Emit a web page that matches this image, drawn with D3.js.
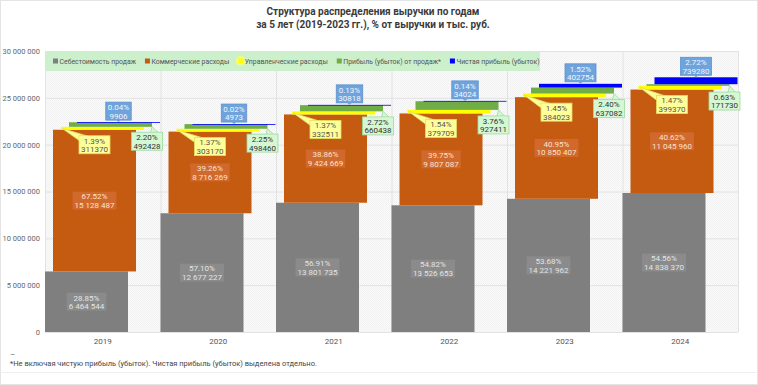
<!DOCTYPE html>
<html>
<head>
<meta charset="utf-8">
<script src="https://d3js.org/d3.v7.min.js"></script>
<style>
  body { margin: 0; background: #fff; }
  svg text { font-family: Roboto, "Noto Sans", sans-serif; }
</style>
</head>
<body>
<script>
// --- data ---
var years = ["2019", "2020", "2021", "2022", "2023", "2024"];
var cost       = [6464544, 12677227, 13801735, 13526653, 14221962, 14838370];
var commercial = [15128487, 8716269, 9424669, 9807087, 10850407, 11045960];
var admin      = [311370, 303170, 332511, 379709, 384023, 399370];
var salesProfit= [492428, 498460, 660438, 927411, 637082, 171730];
var netProfit  = [9906, 4973, 30818, 34024, 402754, 739280];

var costPct   = [28.85, 57.10, 56.91, 54.82, 53.68, 54.56];
var commPct   = [67.52, 39.26, 38.86, 39.75, 40.95, 40.62];
var adminPct  = [1.39, 1.37, 1.37, 1.54, 1.45, 1.47];
var salesPct  = [2.20, 2.25, 2.72, 3.76, 2.40, 0.63];
var netPct    = [0.04, 0.02, 0.13, 0.14, 1.52, 2.72];

var seriesNames = ["Себестоимость продаж", "Коммерческие расходы", "Управленческие расходы",
                   "Прибыль (убыток) от продаж*", "Чистая прибыль (убыток)"];
var yTicks = [0, 5000000, 10000000, 15000000, 20000000, 25000000, 30000000];

var keys = ["cost", "comm", "admin", "sales", "net"];
var colors = ["#7f7f7f", "#c55a11", "#ffff00", "#70ad47", "#0000ff"];

var rows = years.map(function(yr, i) {
  return { year: yr, cost: cost[i], comm: commercial[i], admin: admin[i], sales: salesProfit[i], net: netProfit[i],
           pct: [costPct[i], commPct[i], adminPct[i], salesPct[i], netPct[i]] };
});

var W = 758, H = 385;
var pL = 45, pR = 738, pT = 51, pB = 332;

var svg = d3.select("body").append("svg").attr("width", W).attr("height", H);

// outer frame
svg.append("rect").attr("x", 0.5).attr("y", 0.5).attr("width", W - 1).attr("height", H - 1)
  .attr("fill", "#fff").attr("stroke", "#e4e4e4");

// title
var title = svg.append("text").attr("text-anchor", "middle")
  .attr("font-size", 10).attr("font-weight", "bold").attr("fill", "#3a3a3a");
title.append("tspan").attr("x", 373).attr("y", 15).text("Структура распределения выручки по годам");
title.append("tspan").attr("x", 373).attr("y", 28).text("за 5 лет (2019-2023 гг.), % от выручки и тыс. руб.");

var x = d3.scaleBand().domain(years).range([pL, pR]).padding(0);
var off = d3.scalePoint().domain(keys).range([0, 32]);
var barW = 83;
var y = d3.scaleLinear().domain([0, 30000000]).range([pB, pT]);

// plot background with faint texture
var defs = svg.append("defs");
var pat = defs.append("pattern").attr("id", "tex").attr("width", 2).attr("height", 2)
  .attr("patternUnits", "userSpaceOnUse");
pat.append("rect").attr("width", 2).attr("height", 2).attr("fill", "#fbfbfb");
pat.append("rect").attr("width", 1).attr("height", 1).attr("fill", "#f1f1f1");
pat.append("rect").attr("x", 1).attr("y", 1).attr("width", 1).attr("height", 1).attr("fill", "#f1f1f1");
svg.append("rect").attr("x", pL).attr("y", pT).attr("width", pR - pL).attr("height", pB - pT)
  .attr("fill", "url(#tex)");

// grid
svg.append("g").selectAll("line").data(yTicks).enter().append("line")
  .attr("x1", pL).attr("x2", pR).attr("y1", function(d) { return y(d) + 0.5; })
  .attr("y2", function(d) { return y(d) + 0.5; }).attr("stroke", "#e2e2e2");
var vlines = years.map(function(d) { return x(d); }).concat([pR]);
svg.append("g").selectAll("line").data(vlines).enter().append("line")
  .attr("x1", function(d) { return d + 0.5; }).attr("x2", function(d) { return d + 0.5; })
  .attr("y1", pT).attr("y2", pB).attr("stroke", "#e2e2e2");

// y axis
var fmtSp = function(v) { return d3.format(",")(v).replace(/,/g, " "); };
var yAxis = d3.axisLeft(y).tickValues(yTicks).tickSize(0).tickPadding(5).tickFormat(fmtSp);
var ya = svg.append("g").attr("transform", "translate(" + pL + ",0)").call(yAxis);
ya.select(".domain").remove();
ya.selectAll("text").attr("font-size", 7.5).attr("fill", "#666");

// x axis
var xAxis = d3.axisBottom(x).tickSize(0).tickPadding(6);
var xa = svg.append("g").attr("transform", "translate(0," + pB + ")").call(xAxis);
xa.select(".domain").remove();
xa.selectAll("text").attr("font-size", 8).attr("fill", "#555");

// legend
var lg = svg.append("g");
lg.append("rect").attr("x", pL).attr("y", pT).attr("width", 495).attr("height", 20).attr("fill", "#ccefcc");
var lx = 53;
seriesNames.forEach(function(name, i) {
  if (i === 2) {
    lg.append("circle").attr("cx", lx + 2.5).attr("cy", pT + 10).attr("r", 5).attr("fill", "#ffff66").attr("opacity", 0.7);
  }
  lg.append("rect").attr("x", lx).attr("y", pT + 7.5).attr("width", 5).attr("height", 5).attr("fill", colors[i]);
  var t = lg.append("text").attr("x", lx + 6.5).attr("y", pT + 12.6).attr("font-size", 6.9).attr("fill", "#555").text(name);
  lx += 6.5 + t.node().getComputedTextLength() + 9;
});

// bars
var stack = d3.stack().keys(keys)(rows);
var bars = svg.append("g");
stack.forEach(function(layer, si) {
  bars.selectAll(null).data(layer).enter().append("rect")
    .attr("x", function(d) { return x(d.data.year) + off(keys[si]); })
    .attr("width", barW)
    .attr("y", function(d) { return y(d[1]); })
    .attr("height", function(d) { return Math.max(0.8, y(d[0]) - y(d[1])); })
    .attr("fill", colors[si]);
});

// label helper: returns box dimensions
var boxH = 18;
function labelBox(cx, ty, lines, o) {
  var g = svg.append("g");
  var texts = lines.map(function(s, k) {
    return g.append("text").attr("x", cx).attr("y", ty + 7.8 + k * 8.6).attr("text-anchor", "middle")
      .attr("font-size", 8).attr("fill", o.text).text(s);
  });
  var w = d3.max(texts, function(t) { return t.node().getComputedTextLength(); }) + 4;
  g.insert("rect", "text").attr("x", cx - w / 2).attr("y", ty).attr("width", w).attr("height", boxH)
    .attr("fill", o.fill).attr("stroke", o.stroke || "none").attr("stroke-width", 0.8);
  return { g: g, x0: cx - w / 2, x1: cx + w / 2, y0: ty, y1: ty + boxH, w: w };
}
var pctF = function(p) { return d3.format(".2f")(p) + "%"; };

rows.forEach(function(r, i) {
  var bx = x(r.year);
  var s0 = stack[0][i], s1 = stack[1][i], s2 = stack[2][i], s3 = stack[3][i], s4 = stack[4][i];

  // cost
  var cx0 = bx + off("cost") + barW / 2;
  var my0 = (y(s0[0]) + y(s0[1])) / 2;
  labelBox(cx0, my0 - boxH / 2, [pctF(r.pct[0]), fmtSp(r.cost)], { fill: "#8b8b8b", text: "#e4e4e4" });

  // commercial
  var cx1 = bx + off("comm") + barW / 2;
  var my1 = (y(s1[0]) + y(s1[1])) / 2;
  labelBox(cx1, my1 - boxH / 2, [pctF(r.pct[1]), fmtSp(r.comm)], { fill: "#d0692b", text: "#fbe3d0" });

  var orangeTop = y(s1[1]);

  // admin (yellow callout)
  var yl = bx + off("admin");
  var b2 = labelBox(yl + barW / 2 - 8, orangeTop + 6, [pctF(r.pct[2]), String(r.admin)],
    { fill: "#ffff99", text: "#555", stroke: "#e0e060" });
  b2.g.insert("polygon", "rect").attr("points", [
      [yl + 1, y(s2[1]) + 1.5], [b2.x0 + 0.5, b2.y0 + 5], [b2.x0 + 9, b2.y0 + 0.5]].join(" "))
    .attr("fill", "#ffff99").attr("stroke", "#e0e060").attr("stroke-width", 0.8);
  b2.g.append("rect").attr("x", b2.x0 + 0.5).attr("y", b2.y0 + 0.5).attr("width", 9).attr("height", 5).attr("fill", "#ffff99");
  b2.g.selectAll("text").raise();

  // sales profit (green callout)
  var gr = bx + off("sales") + barW;
  var b3 = labelBox(gr - 5, orangeTop + 2.5, [pctF(r.pct[3]), String(r.sales)],
    { fill: "#d4f7d4", text: "#333", stroke: "#9fd89f" });
  b3.g.insert("polygon", "rect").attr("points", [
      [gr, y(s3[0])], [b3.x1 - 12, b3.y0 + 0.5], [b3.x1 - 4, b3.y0 + 0.5]].join(" "))
    .attr("fill", "#d4f7d4").attr("stroke", "#9fd89f").attr("stroke-width", 0.8);
  b3.g.append("rect").attr("x", b3.x1 - 12).attr("y", b3.y0 + 0.6).attr("width", 8).attr("height", 3).attr("fill", "#d4f7d4");
  b3.g.selectAll("text").raise();

  // net profit (blue callout)
  var bc = bx + off("net") + barW / 2;
  var bt = y(s4[1]);
  var b4 = labelBox(bc, bt - boxH - 2, [pctF(r.pct[4]), String(r.net)],
    { fill: "#6fa3dc", text: "#f2f7fd", stroke: "#5d92cf" });
  b4.g.append("polygon").attr("points", [[bc - 3, b4.y1 - 0.5], [bc + 3, b4.y1 - 0.5], [bc, bt]].join(" "))
    .attr("fill", "#6fa3dc");
});

// footnote
svg.append("text").attr("x", 10).attr("y", 357).attr("font-size", 8).attr("fill", "#666").text("–");
svg.append("text").attr("x", 10).attr("y", 366).attr("font-size", 7.5).attr("fill", "#444")
  .text("*Не включая чистую прибыль (убыток). Чистая прибыль (убыток) выделена отдельно.");
svg.append("line").attr("x1", 0).attr("x2", W).attr("y1", 372.5).attr("y2", 372.5).attr("stroke", "#eee");
</script>
</body>
</html>
